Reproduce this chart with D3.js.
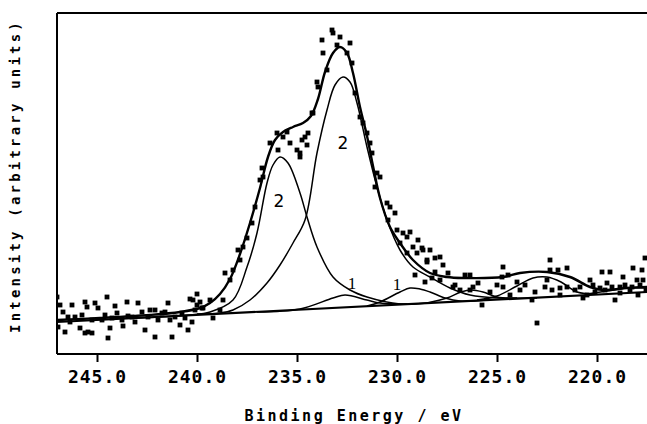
<!DOCTYPE html>
<html>
<head>
<meta charset="utf-8">
<script src="https://cdn.jsdelivr.net/npm/d3@7/dist/d3.min.js"></script>
<style>
  body { margin: 0; background: #fff; }
  .tick text { font-family: "DejaVu Sans Mono", monospace; font-weight: bold; font-size: 18px; letter-spacing: 1px; }
  .title { font-family: "DejaVu Sans Mono", monospace; font-weight: bold; }
</style>
</head>
<body>
<div class="chart"></div>
<script>
// binding energy (eV) tick values
const xTicks = [245, 240, 235, 230, 225, 220]

// measured points [binding energy, intensity]
const measured = [
  [247.0,57],[246.85,49],[246.25,49],[245.6,52],[245.5,47],[245.1,51],[244.95,46],[244.5,57],
  [244.1,48],[243.5,52],[242.95,51],[242.35,44],[241.45,51],[240.35,55],[240.0,60],[239.85,52],
  [246.95,27],[246.6,22],[245.85,26],[245.6,21],[245.45,22],[245.25,21],[244.45,16],[244.35,26],
  [243.7,28],[242.6,24],[242.1,17],[241.25,17],[240.85,29],[240.45,24],[240.25,32],
  [246.7,42],[246.45,37],[246.1,37],[245.75,39],[245.25,34],[244.75,34],[244.6,39],[244.0,41],
  [243.75,34],[243.25,37],[243.1,32],[242.75,42],[242.45,37],[242.1,44],[241.95,34],[241.75,41],
  [241.6,42],[241.1,37],[240.75,41],[240.1,44],[239.75,46],[246.35,32],[244.25,36],[243.45,38],
  [241.35,34],[240.6,36],
  [240.2,54],[240.0,49],[239.7,46],[239.35,54],[239.2,36],[238.85,44],[238.7,54],[238.6,81],
  [238.35,74],[238.2,84],[237.85,94],[237.95,104],[237.7,107],[237.5,116],[237.25,131],[237.1,147],
  [236.85,174],[236.7,177],[236.75,186],[236.35,211],[236.0,221],[235.95,204],[235.7,217],[235.35,211],
  [235.0,204],[234.85,201],[234.6,217],[234.5,209],[234.45,221],[235.5,222],[234.25,241],
  [233.25,324],[233.2,321],[233.75,314],[232.85,317],[233.0,309],[232.35,311],[233.7,301],[232.5,301],
  [232.25,291],[233.5,284],[234.0,272],[233.95,267],[232.1,261],[234.2,241],[234.75,214],[234.85,197],
  [231.85,237],[231.7,231],[231.5,221],[231.35,211],[231.25,201],[231.0,181],[230.85,177],[231.1,167],
  [230.5,151],[230.35,147],[230.1,141],[230.45,134],[230.0,124],[229.7,121],[229.5,117],[229.35,122],
  [229.85,111],[229.2,107],[228.95,114],[229.0,101],[228.7,104],[228.5,94],[229.5,101],[229.1,79],
  [228.75,106],[228.35,104],[228.5,92],[228.1,96],[227.85,97],[228.1,82],[227.7,89],[227.45,81],
  [227.85,74],[226.35,79],[226.6,79],[227.2,67],[226.85,64],[226.2,67],[225.75,49],[224.7,87],
  [224.75,77],[224.45,79],[224.7,67],[224.0,72],[223.85,64],[223.25,54],[223.0,31],[222.35,94],
  [222.35,84],[221.95,84],[221.5,86],[222.5,74],[222.25,64],[221.85,66],[221.5,67],[220.7,56],
  [220.35,74],[219.75,82],[219.35,82],[219.5,71],[219.1,54],[218.85,67],[218.7,77],[218.2,86],
  [217.75,84],[217.6,96],[218.0,74],[217.7,74],[218.35,64],[217.95,59],[218.85,61],[219.85,66],
  [220.2,69],[220.5,59],[220.85,67],
  [227.1,69],[226.35,64],[225.95,71],[225.35,62],[225.0,69],[224.35,59],[223.6,69],[223.1,62],
  [222.6,67],[221.85,59],[221.1,64],[220.1,62],[219.6,64],[219.25,67],[218.6,69],[218.25,67],
  [217.85,69],[217.55,64],[228.6,72],[228.25,76]
]

// fitted envelope
const envelope = [
  [247.0,34],[244.85,36],[242.35,39],[240.85,42],[239.85,46],[239.35,51],[238.85,60],[238.35,75],
  [237.85,100],[237.35,131],[236.85,166],[236.45,197],[236.1,214],[235.7,222],[235.2,227],[234.7,231],
  [234.3,238],[233.95,255],[233.6,282],[233.2,301],[232.85,307],[232.5,301],[232.2,281],[231.85,247],
  [231.5,218],[231.2,188],[230.85,156],[230.35,127],[229.85,111],[229.2,94],[228.35,81],[227.5,77],
  [226.7,76],[224.7,77],[223.85,81],[222.5,82],[221.35,77],[220.35,67],[219.7,64],[218.5,66],[217.5,67]
]

// linear background
const background = [[247.0,32],[217.5,62]]

// component peaks
const peak2a = [
  [243.0,36],[240.35,39],[239.35,42],[238.2,54],[237.5,87],[237.0,121],[236.5,171],[236.2,189],
  [235.85,197],[235.45,191],[234.85,161],[234.5,137],[234.0,107],[233.2,77],[232.35,64],[231.5,57],
  [229.85,50],[228.5,51]
]
const peak2b = [
  [240.0,40],[238.85,41],[238.2,44],[237.35,54],[236.5,71],[235.85,89],[235.2,111],[234.6,134],
  [234.0,201],[233.5,244],[233.1,269],[232.7,277],[232.35,272],[232.0,251],[231.5,207],[231.0,167],
  [230.5,134],[229.85,104],[229.2,87],[228.35,77],[227.35,66],[226.35,59],[224.85,56],[223.0,56]
]
const peak1a = [
  [237.0,42],[234.85,45],[233.2,56],[232.6,59],[231.5,54],[230.85,51],[229.5,50]
]
const peak1b = [
  [231.5,48],[230.85,52],[229.85,62],[229.35,66],[228.85,65],[228.35,62],[227.6,56],[226.85,53],[225.5,54]
]
const peak3 = [
  [228.5,51],[227.5,56],[226.8,62],[226.3,64],[225.7,62],[225.0,57],[224.0,56]
]
const peak4 = [
  [226.0,54],[225.0,58],[224.0,68],[223.2,76],[222.5,77],[221.8,72],[221.0,62],[220.0,60]
]
const peak5 = [
  [220.5,60],[219.5,63],[218.5,66],[217.5,66]
]

// peak labels [binding energy, intensity, text]
const peakLabels = [[235.9,147,'2'],[232.7,205,'2'],[232.25,65,'1'],[230.0,64,'1']]

const margin = {top: 13, right: 0, bottom: 70, left: 57}
const width = 647 - margin.left - margin.right
const height = 424 - margin.top - margin.bottom

const xScale = d3.scaleLinear()
  .domain([247, 217.5])
  .range([0, width])

const yScale = d3.scaleLinear()
  .domain([0, 341])
  .range([height, 0])

const line = d3.line()
  .x(d => xScale(d[0]))
  .y(d => yScale(d[1]))
  .curve(d3.curveCatmullRom.alpha(0.5))

const svg = d3.select('.chart').append('svg')
    .attr('width', 647)
    .attr('height', 424)
  .append('g')
    .attr('transform', 'translate(' + margin.left + ',' + margin.top + ')')

svg.append('clipPath').attr('id', 'clip')
  .append('rect').attr('width', width).attr('height', height)

const plot = svg.append('g').attr('clip-path', 'url(#clip)')

// components, thin lines
;[peak2a, peak2b, peak1a, peak1b, peak3, peak4, peak5].forEach(p => {
  plot.append('path')
    .datum(p)
    .attr('fill', 'none')
    .attr('stroke', '#000')
    .attr('stroke-width', 1.5)
    .attr('d', line)
})

plot.append('path')
  .datum(background)
  .attr('fill', 'none')
  .attr('stroke', '#000')
  .attr('stroke-width', 2.2)
  .attr('d', d3.line().x(d => xScale(d[0])).y(d => yScale(d[1])))

plot.append('path')
  .datum(envelope)
  .attr('fill', 'none')
  .attr('stroke', '#000')
  .attr('stroke-width', 2.4)
  .attr('d', line)

plot.selectAll('rect.pt')
  .data(measured)
  .enter().append('rect')
    .attr('class', 'pt')
    .attr('x', d => xScale(d[0]) - 2.4)
    .attr('y', d => yScale(d[1]) - 2.4)
    .attr('width', 4.8)
    .attr('height', 4.8)
    .attr('fill', '#000')

svg.selectAll('text.lbl')
  .data(peakLabels)
  .enter().append('text')
    .attr('class', 'lbl')
    .attr('x', d => xScale(d[0]))
    .attr('y', d => yScale(d[1]))
    .attr('text-anchor', 'middle')
    .attr('font-family', d => d[2] === '1' ? 'Liberation Serif' : 'DejaVu Sans')
    .attr('font-size', 17)
    .text(d => d[2])

// x axis
svg.append('g')
  .attr('class', 'x axis')
  .attr('transform', 'translate(0,' + height + ')')
  .call(
    d3.axisBottom(xScale)
      .tickValues(xTicks)
      .tickSize(8)
      .tickPadding(8)
      .tickFormat(d3.format('.1f')))
  .call(g => g.select('.domain').attr('stroke-width', 2).attr('d', 'M0,0H' + width))
  .call(g => g.selectAll('.tick line').attr('stroke-width', 2))

// frame: left and top
svg.append('line')
  .attr('x1', 0).attr('x2', 0).attr('y1', 0).attr('y2', height)
  .attr('stroke', '#000').attr('stroke-width', 2)
svg.append('line')
  .attr('x1', 0).attr('x2', width).attr('y1', 0).attr('y2', 0)
  .attr('stroke', '#000').attr('stroke-width', 2)

svg.append('text')
  .attr('class', 'title')
  .attr('x', 297)
  .attr('y', 408)
  .attr('text-anchor', 'middle')
  .attr('font-size', 15)
  .attr('letter-spacing', 2.5)
  .text('Binding Energy / eV')

svg.append('text')
  .attr('class', 'title')
  .attr('transform', 'translate(-37,163) rotate(-90)')
  .attr('text-anchor', 'middle')
  .attr('font-size', 14)
  .attr('letter-spacing', 3.2)
  .text('Intensity (arbitrary units)')
</script>
</body>
</html>
